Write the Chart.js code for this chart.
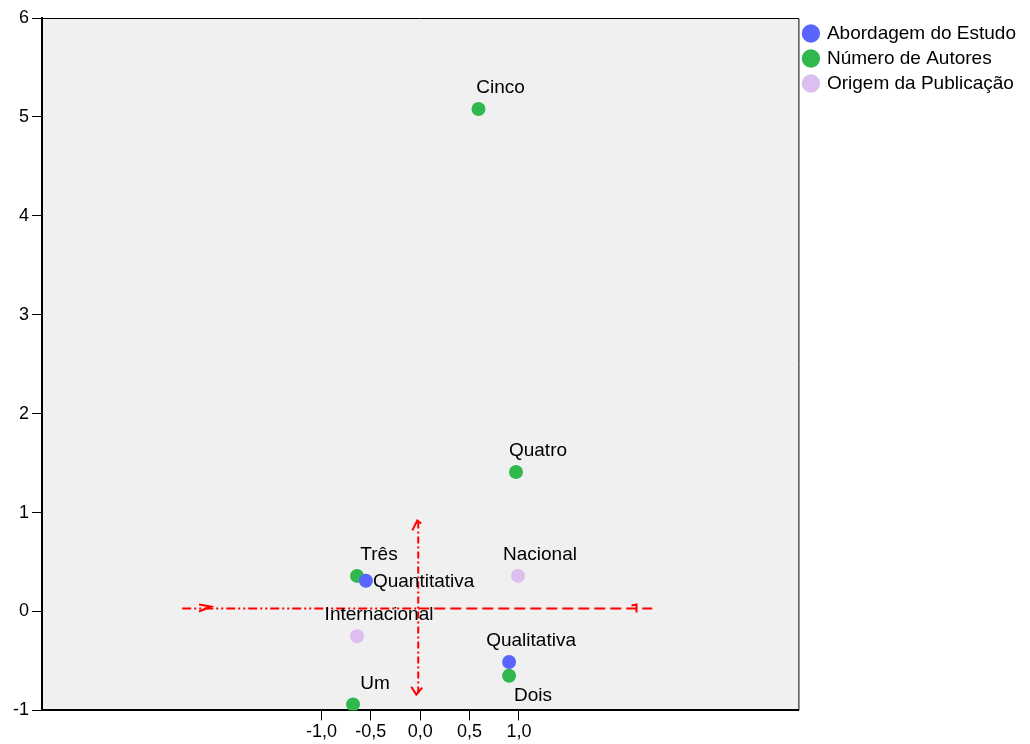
<!DOCTYPE html>
<html lang="pt-br">
<head>
<meta charset="UTF-8">
<title>Mapa de correspondência</title>
<style>
  html, body { margin: 0; padding: 0; background: #fff; }
  .grafico { width: 1030px; height: 744px; }
</style>
</head>
<body>
<div class="grafico">
  <canvas id="myChart"></canvas>
</div>

<script src="https://cdn.jsdelivr.net/npm/chart.js"></script>
<script>
// categorias e coordenadas (dimensão 1 = x, dimensão 2 = y)
const abordagemNomes = ['Quantitativa', 'Qualitativa'];
const abordagemX = [-0.55, 0.90];
const abordagemY = [0.31, -0.51];

const autoresNomes = ['Um', 'Dois', 'Três', 'Quatro', 'Cinco'];
const autoresX = [-0.68, 0.90, -0.64, 0.97, 0.59];
const autoresY = [-0.94, -0.65, 0.36, 1.41, 5.08];

const origemNomes = ['Nacional', 'Internacional'];
const origemX = [0.99, -0.64];
const origemY = [0.36, -0.25];

// onde fica o rótulo de cada ponto
const abordagemRotulo = ['right', 'above'];
const autoresRotulo = ['above', 'below', 'above', 'above', 'above'];
const origemRotulo = ['above', 'above'];

const xTicks = [-1, -0.5, 0, 0.5, 1];

function pontos(xs, ys) {
    return xs.map((x, i) => ({ x: x, y: ys[i] }));
}

// linhas vermelhas de referência
const linhaEsq = [{ x: -2.41, y: 0.03 }, { x: -0.02, y: 0.03 }];
const linhaDir = [{ x: -0.02, y: 0.03 }, { x: 2.35, y: 0.03 }];
const linhaVert = [{ x: -0.02, y: 0.91 }, { x: -0.02, y: -0.84 }];
const pontaDir = [{ x: 2.14, y: 0.06 }, { x: 2.19, y: 0.07 }, { x: 2.19, y: -0.01 }];
const pontaEsq = [{ x: -2.24, y: 0.07 }, { x: -2.12, y: 0.05 }, { x: -2.24, y: 0.0 }];
const pontaCima = [{ x: -0.08, y: 0.82 }, { x: -0.03, y: 0.92 }, { x: 0.01, y: 0.89 }];
const pontaBaixo = [{ x: -0.09, y: -0.76 }, { x: -0.04, y: -0.84 }, { x: 0.02, y: -0.77 }];

Chart.defaults.font.family = '"Liberation Sans", Arial, sans-serif';
Chart.defaults.font.size = 18;
Chart.defaults.color = '#000';

const fundoPlot = {
    id: 'fundoPlot',
    beforeDraw(chart) {
        const { ctx, chartArea: a } = chart;
        ctx.save();
        ctx.fillStyle = '#f0f0f0';
        ctx.fillRect(a.left, a.top, a.right - a.left, a.bottom - a.top);
        ctx.restore();
    },
    afterDraw(chart) {
        const { ctx, chartArea: a } = chart;
        ctx.save();
        ctx.strokeStyle = '#000';
        ctx.lineWidth = 1;
        ctx.beginPath();
        ctx.moveTo(a.left, a.top + 0.5);
        ctx.lineTo(a.right + 0.5, a.top + 0.5);
        ctx.lineTo(a.right + 0.5, a.bottom);
        ctx.stroke();
        ctx.restore();
    }
};

const rotulos = {
    id: 'rotulos',
    afterDatasetsDraw(chart) {
        const { ctx } = chart;
        ctx.save();
        ctx.font = '19px "Liberation Sans", Arial, sans-serif';
        ctx.fillStyle = '#000';
        chart.data.datasets.forEach((ds, di) => {
            if (!ds.nomes) return;
            const meta = chart.getDatasetMeta(di);
            meta.data.forEach((p, i) => {
                const pos = ds.rotulo[i];
                if (pos === 'right') {
                    ctx.textAlign = 'left';
                    ctx.textBaseline = 'middle';
                    ctx.fillText(ds.nomes[i], p.x + 7, p.y + 1);
                } else if (pos === 'below') {
                    ctx.textAlign = 'center';
                    ctx.textBaseline = 'middle';
                    ctx.fillText(ds.nomes[i], p.x + 24, p.y + 20);
                } else {
                    ctx.textAlign = 'center';
                    ctx.textBaseline = 'middle';
                    ctx.fillText(ds.nomes[i], p.x + 22, p.y - 21);
                }
            });
        });
        ctx.restore();
    }
};

function linhaVermelha(data, dash) {
    return {
        type: 'line',
        data: data,
        borderColor: '#ff0000',
        borderWidth: 2,
        borderDash: dash,
        pointRadius: 0,
        fill: false,
        showLine: true
    };
}

new Chart(document.getElementById('myChart'), {
    type: 'scatter',
    data: {
        datasets: [
            {
                label: 'Abordagem do Estudo',
                data: pontos(abordagemX, abordagemY),
                nomes: abordagemNomes,
                rotulo: abordagemRotulo,
                backgroundColor: '#5a64ff',
                borderWidth: 0,
                pointRadius: 7
            },
            {
                label: 'Número de Autores',
                data: pontos(autoresX, autoresY),
                nomes: autoresNomes,
                rotulo: autoresRotulo,
                backgroundColor: '#30b84e',
                borderWidth: 0,
                pointRadius: 7
            },
            {
                label: 'Origem da Publicação',
                data: pontos(origemX, origemY),
                nomes: origemNomes,
                rotulo: origemRotulo,
                backgroundColor: '#dcbef0',
                borderWidth: 0,
                pointRadius: 7
            },
            linhaVermelha(linhaEsq, [9, 3, 2, 3, 2, 3]),
            linhaVermelha(linhaDir, [11, 5]),
            linhaVermelha(linhaVert, [7, 3, 2, 3]),
            linhaVermelha(pontaDir, []),
            linhaVermelha(pontaEsq, []),
            linhaVermelha(pontaCima, []),
            linhaVermelha(pontaBaixo, [])
        ]
    },
    options: {
        responsive: true,
        maintainAspectRatio: false,
        animation: false,
        layout: { padding: { top: 18, left: 10, right: 4, bottom: 0 } },
        plugins: {
            tooltip: { enabled: false },
            legend: {
                position: 'right',
                align: 'start',
                labels: {
                    usePointStyle: true,
                    pointStyle: 'circle',
                    boxWidth: 13,
                    boxHeight: 13,
                    padding: 6,
                    font: { size: 19 },
                    filter: item => item.datasetIndex < 3
                }
            }
        },
        scales: {
            x: {
                type: 'linear',
                min: -3.83,
                max: 3.83,
                afterBuildTicks: axis => { axis.ticks = xTicks.map(v => ({ value: v })); },
                ticks: {
                    autoSkip: false,
                    maxRotation: 0,
                    padding: 1,
                    callback: v => v.toFixed(1).replace('.', ',')
                },
                grid: { drawOnChartArea: false, tickLength: 10, color: '#000', lineWidth: 1 },
                border: { color: '#000', width: 2 }
            },
            y: {
                min: -1,
                max: 6,
                ticks: { stepSize: 1, padding: 3 },
                grid: { drawOnChartArea: false, tickLength: 10, color: '#000', lineWidth: 1 },
                border: { color: '#000', width: 2 }
            }
        }
    },
    plugins: [fundoPlot, rotulos]
});
</script>
</body>
</html>
